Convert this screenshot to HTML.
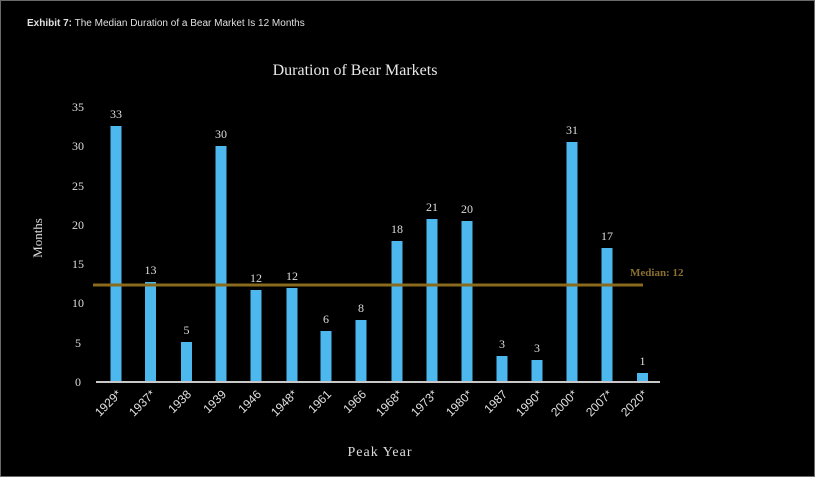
<!DOCTYPE html><html><head><style>body{margin:0;background:#000}</style></head><body>
<svg width="815" height="477" viewBox="0 0 815 477" xmlns="http://www.w3.org/2000/svg" style="display:block">
<rect x="0.5" y="0.5" width="814" height="476" fill="#000" stroke="#6a6a6a"/>
<text x="27" y="26" font-family="Liberation Sans,sans-serif" font-size="10" fill="#e0e0e0"><tspan font-weight="bold">Exhibit 7:</tspan> The Median Duration of a Bear Market Is 12 Months</text>
<text x="355" y="75" text-anchor="middle" font-family="Liberation Serif,serif" font-size="16" fill="#e8e8e8">Duration of Bear Markets</text>
<g font-family="Liberation Serif,serif" font-size="12" fill="#ddd" text-anchor="middle">
<text x="78" y="111">35</text><text x="78" y="150">30</text><text x="78" y="190">25</text><text x="78" y="229">20</text><text x="78" y="268">15</text><text x="78" y="307">10</text><text x="78" y="347">5</text><text x="78" y="386">0</text>
</g>
<text transform="translate(42,238) rotate(-90)" text-anchor="middle" font-family="Liberation Serif,serif" font-size="13" fill="#ddd">Months</text>
<text x="380" y="456" text-anchor="middle" font-family="Liberation Serif,serif" font-size="14" fill="#ddd" letter-spacing="1">Peak Year</text>
<g fill="#4cb8ee">
<rect x="110.5" y="126" width="11" height="256"/><rect x="145" y="282" width="11" height="100"/><rect x="181" y="342" width="11" height="40"/><rect x="215.5" y="146" width="11" height="236"/><rect x="250.5" y="290" width="11" height="92"/><rect x="286.5" y="288" width="11" height="94"/><rect x="320.5" y="331" width="11" height="51"/><rect x="355.5" y="320" width="11" height="62"/><rect x="391.5" y="241" width="11" height="141"/><rect x="426.5" y="219" width="11" height="163"/><rect x="461.5" y="221" width="11" height="161"/><rect x="496.5" y="356" width="11" height="26"/><rect x="531.5" y="360" width="11" height="22"/><rect x="566.5" y="142" width="11" height="240"/><rect x="601.5" y="248" width="11" height="134"/><rect x="637" y="373" width="11" height="9"/>
</g>
<line x1="96" y1="382" x2="660" y2="382" stroke="#c8c8c8" stroke-width="2"/>
<line x1="93" y1="285" x2="643" y2="285" stroke="#8a6a1c" stroke-width="3"/>
<text x="630" y="276" font-family="Liberation Serif,serif" font-size="11" font-weight="bold" fill="#8a7030">Median: 12</text>
<g font-family="Liberation Serif,serif" font-size="12" fill="#ddd" text-anchor="middle">
<text x="116" y="118">33</text><text x="150.5" y="274">13</text><text x="186.5" y="334">5</text><text x="221" y="138">30</text><text x="256" y="282">12</text><text x="292" y="280">12</text><text x="326" y="323">6</text><text x="361" y="312">8</text><text x="397" y="233">18</text><text x="432" y="211">21</text><text x="467" y="213">20</text><text x="502" y="348">3</text><text x="537" y="352">3</text><text x="572" y="134">31</text><text x="607" y="240">17</text><text x="642.5" y="365">1</text>
</g>
<g font-family="Liberation Sans,sans-serif" font-size="12" fill="#e0e0e0" text-anchor="end">
<text transform="translate(122,395) rotate(-45)">1929*</text>
<text transform="translate(156,395) rotate(-45)">1937*</text>
<text transform="translate(192,395) rotate(-45)">1938</text>
<text transform="translate(227,395) rotate(-45)">1939</text>
<text transform="translate(262,395) rotate(-45)">1946</text>
<text transform="translate(298,395) rotate(-45)">1948*</text>
<text transform="translate(332,395) rotate(-45)">1961</text>
<text transform="translate(367,395) rotate(-45)">1966</text>
<text transform="translate(403,395) rotate(-45)">1968*</text>
<text transform="translate(438,395) rotate(-45)">1973*</text>
<text transform="translate(473,395) rotate(-45)">1980*</text>
<text transform="translate(508,395) rotate(-45)">1987</text>
<text transform="translate(543,395) rotate(-45)">1990*</text>
<text transform="translate(578,395) rotate(-45)">2000*</text>
<text transform="translate(613,395) rotate(-45)">2007*</text>
<text transform="translate(648,395) rotate(-45)">2020*</text>
</g>
</svg>
</body></html>
